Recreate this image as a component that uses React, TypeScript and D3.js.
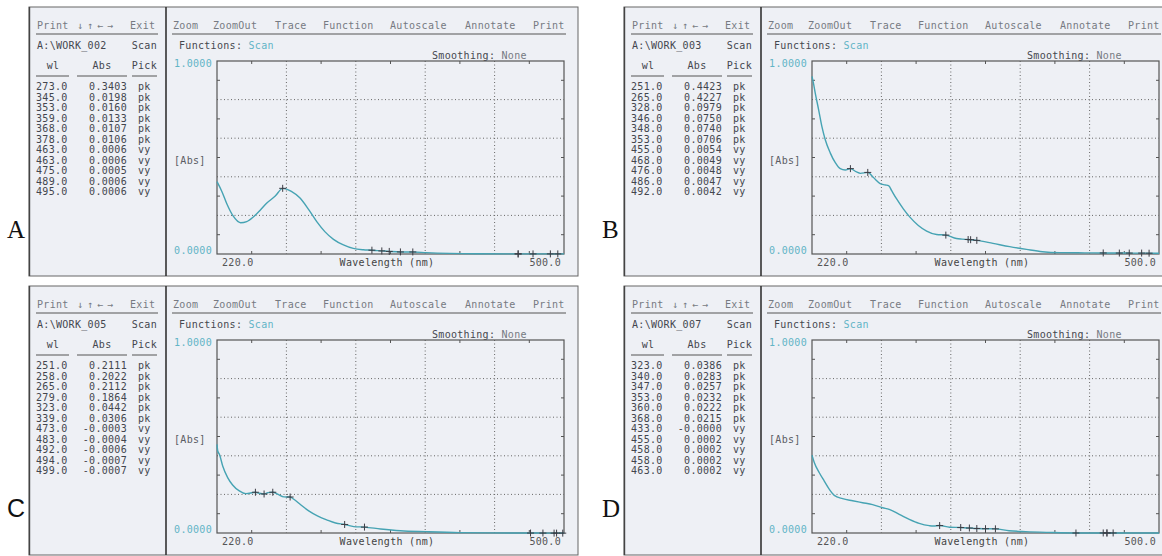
import React from "react";
import * as d3 from "d3";

// ---------- data ----------
const panelLetters = ["A", "B", "C", "D"];
const fileNames = ["A:\\WORK_002", "A:\\WORK_003", "A:\\WORK_005", "A:\\WORK_007"];

const wlDomain = [220, 500];
const absDomain = [0, 1];
const gridWl = [276, 332, 388, 444];
const minorWl = [248, 304, 360, 416, 472];
const gridAbs = [0.2, 0.4, 0.6, 0.8];
const minorAbs = [0.1, 0.3, 0.5, 0.7, 0.9];

const menuLeft = ["Print", "↓", "↑", "←", "→", "Exit"];
const menuRight = ["Zoom", "ZoomOut", "Trace", "Function", "Autoscale", "Annotate", "Print"];

// peak tables
const pickWlA = [273.0, 345.0, 353.0, 359.0, 368.0, 378.0, 463.0, 463.0, 475.0, 489.0, 495.0];
const pickAbsA = [0.3403, 0.0198, 0.016, 0.0133, 0.0107, 0.0106, 0.0006, 0.0006, 0.0005, 0.0006, 0.0006];
const pickWlB = [251.0, 265.0, 328.0, 346.0, 348.0, 353.0, 455.0, 468.0, 476.0, 486.0, 492.0];
const pickAbsB = [0.4423, 0.4227, 0.0979, 0.075, 0.074, 0.0706, 0.0054, 0.0049, 0.0048, 0.0047, 0.0042];
const pickWlC = [251.0, 258.0, 265.0, 279.0, 323.0, 339.0, 473.0, 483.0, 492.0, 494.0, 499.0];
const pickAbsC = [0.2111, 0.2022, 0.2112, 0.1864, 0.0442, 0.0306, -0.0003, -0.0004, -0.0006, -0.0007, -0.0007];
const pickWlD = [323.0, 340.0, 347.0, 353.0, 360.0, 368.0, 433.0, 455.0, 458.0, 458.0, 463.0];
const pickAbsD = [0.0386, 0.0283, 0.0257, 0.0232, 0.0222, 0.0215, -0.00004, 0.0002, 0.0002, 0.0002, 0.0002];
const pickTypes = ["pk", "pk", "pk", "pk", "pk", "pk", "vy", "vy", "vy", "vy", "vy"];

// scanned spectra
const specWlA = [220, 224, 228, 233, 239, 244, 249.5, 255, 260, 267, 273, 280, 287, 294, 300.5, 307, 314, 322, 330, 338, 345, 353, 359, 368, 378, 389, 408, 430, 463, 475, 489, 500];
const specAbsA = [0.375, 0.323, 0.259, 0.197, 0.162, 0.168, 0.193, 0.228, 0.263, 0.3, 0.34, 0.325, 0.29, 0.23, 0.168, 0.116, 0.076, 0.047, 0.029, 0.022, 0.0198, 0.016, 0.0133, 0.0107, 0.0106, 0.007, 0.003, 0.001, 0.0006, 0.0005, 0.0006, 0.0006];

const specWlB = [220, 221, 222.7, 225.4, 228, 230.7, 234.7, 238.8, 242.8, 246.8, 251, 256, 259, 265, 269.6, 275, 279, 282, 284.3, 288.3, 293.7, 299, 305.8, 312.5, 320.5, 328, 336.6, 341, 346, 348, 353, 366, 379.5, 393, 406, 420, 440, 455, 468, 476, 486, 492, 500];
const specAbsB = [0.92, 0.89, 0.831, 0.746, 0.66, 0.592, 0.524, 0.473, 0.442, 0.435, 0.4423, 0.425, 0.418, 0.4227, 0.396, 0.365, 0.358, 0.353, 0.328, 0.285, 0.234, 0.191, 0.148, 0.119, 0.101, 0.0979, 0.08, 0.077, 0.075, 0.074, 0.0706, 0.055, 0.038, 0.024, 0.012, 0.007, 0.006, 0.0054, 0.0049, 0.0048, 0.0047, 0.0042, 0.004];

const specWlC = [220, 220.6, 222, 224.6, 228.6, 232.6, 238, 243.3, 251, 254, 258, 261, 265, 269, 274, 279, 282, 287.5, 294, 301, 309, 315.7, 323, 330.4, 339, 352, 368, 389, 416, 440, 473, 483, 492, 494, 499, 500];
const specAbsC = [0.459, 0.425, 0.407, 0.347, 0.287, 0.249, 0.218, 0.204, 0.2111, 0.206, 0.2022, 0.209, 0.2112, 0.201, 0.187, 0.1864, 0.175, 0.146, 0.115, 0.089, 0.067, 0.052, 0.0442, 0.033, 0.0306, 0.021, 0.012, 0.007, 0.002, 0.0005, -0.0003, -0.0004, -0.0006, -0.0007, -0.0007, -0.0007];

const specWlD = [220, 221.9, 225.9, 229.9, 234, 238, 244.7, 252.8, 260.8, 268.9, 277, 282.3, 290.4, 298.5, 306.5, 314.6, 318, 323, 331, 340, 347, 353, 360, 368, 379, 392.5, 411, 433, 455, 458, 463, 480, 500];
const specAbsD = [0.403, 0.364, 0.312, 0.269, 0.226, 0.195, 0.178, 0.167, 0.157, 0.147, 0.131, 0.122, 0.097, 0.071, 0.05, 0.038, 0.036, 0.0386, 0.03, 0.0283, 0.0257, 0.0232, 0.0222, 0.0215, 0.012, 0.007, 0.003, 0.0, 0.0002, 0.0002, 0.0002, 0.0002, 0.0002];

// ---------- styling ----------
const MONO = "'DejaVu Sans Mono', 'Liberation Mono', monospace";
const BG = "#eef0f5";
const CYAN = "#62b4c6";
const CURVE = "#46a3b3";
const GREY_TXT = "#767a82";
const DARK_TXT = "#43464e";

const panels = [
  { letter: panelLetters[0], file: fileNames[0], pw: pickWlA, pa: pickAbsA, sw: specWlA, sa: specAbsA, dx: 0, dy: 0, serif: true },
  { letter: panelLetters[1], file: fileNames[1], pw: pickWlB, pa: pickAbsB, sw: specWlB, sa: specAbsB, dx: 595, dy: 0, serif: true },
  { letter: panelLetters[2], file: fileNames[2], pw: pickWlC, pa: pickAbsC, sw: specWlC, sa: specAbsC, dx: 0, dy: 279, serif: false },
  { letter: panelLetters[3], file: fileNames[3], pw: pickWlD, pa: pickAbsD, sw: specWlD, sa: specAbsD, dx: 595, dy: 279, serif: true },
];

const fmtAbs = (v: number) => v.toFixed(4);
const fmtWl = (v: number) => v.toFixed(1);

const menuLeftX = [37, 77, 87, 97, 107, 130];
const menuRightX = [173, 213, 275, 323, 390, 465, 533];

function Panel({ p }: { p: (typeof panels)[number] }) {
  const x = d3.scaleLinear().domain(wlDomain).range([217, 564]);
  const y = d3.scaleLinear().domain(absDomain).range([254, 61]);
  const pts: [number, number][] = p.sw.map((w, i) => [w, p.sa[i]]);
  const line = d3
    .line<[number, number]>()
    .x((d) => x(d[0]))
    .y((d) => y(d[1]))
    .curve(d3.curveMonotoneX);
  const txt = { fontFamily: MONO, fontSize: 10, letterSpacing: 0.3 } as const;
  return (
    <g transform={`translate(${p.dx},${p.dy})`}>
      <text
        x={7}
        y={238}
        fontFamily={p.serif ? "'Liberation Serif', 'DejaVu Serif', serif" : "'Liberation Sans', Arial, sans-serif"}
        fontSize={p.serif ? 25 : 25}
        fill="#111"
      >
        {p.letter}
      </text>
      <rect x={29} y={7} width={549} height={269} fill={BG} stroke="#666" strokeWidth={1} />
      <line x1={166} x2={166} y1={7} y2={276} stroke="#333" strokeWidth={1.6} />
      <line x1={29.5} x2={29.5} y1={7} y2={276} stroke="#444" strokeWidth={1.4} />

      {/* left list */}
      {menuLeft.map((m, i) => (
        <text key={m + i} x={menuLeftX[i]} y={29} {...txt} fill={GREY_TXT}>
          {m}
        </text>
      ))}
      <line x1={36} x2={158} y1={34} y2={34} stroke="#555" strokeWidth={1} />
      <text x={37} y={49} {...txt} fill={DARK_TXT}>
        {p.file}
      </text>
      <text x={157} y={49} {...txt} fill={DARK_TXT} textAnchor="end">
        Scan
      </text>
      <text x={53} y={69} {...txt} fill={DARK_TXT} textAnchor="middle">
        wl
      </text>
      <text x={102} y={69} {...txt} fill={DARK_TXT} textAnchor="middle">
        Abs
      </text>
      <text x={157} y={69} {...txt} fill={DARK_TXT} textAnchor="end">
        Pick
      </text>
      <line x1={36} x2={69} y1={76} y2={76} stroke="#555" />
      <line x1={77} x2={127} y1={76} y2={76} stroke="#555" />
      <line x1={132} x2={157} y1={76} y2={76} stroke="#555" />
      {p.pw.map((w, i) => (
        <g key={i}>
          <text x={36} y={90 + i * 10.5} {...txt} fill={DARK_TXT}>
            {fmtWl(w)}
          </text>
          <text x={127} y={90 + i * 10.5} {...txt} fill={DARK_TXT} textAnchor="end">
            {fmtAbs(p.pa[i])}
          </text>
          <text x={138} y={90 + i * 10.5} {...txt} fill={DARK_TXT}>
            {pickTypes[i]}
          </text>
        </g>
      ))}

      {/* right graph area */}
      {menuRight.map((m, i) => (
        <text key={m + i} x={menuRightX[i]} y={29} {...txt} fill={GREY_TXT}>
          {m}
        </text>
      ))}
      <line x1={172} x2={566} y1={34} y2={34} stroke="#555" strokeWidth={1} />
      <text x={179} y={49} {...txt} fill="#45474e">
        Functions: <tspan fill={CYAN}>Scan</tspan>
      </text>
      <text x={432} y={59} {...txt} fill="#45474e">
        Smoothing: <tspan fill={GREY_TXT}>None</tspan>
      </text>
      <text x={212} y={67} {...txt} fill={CYAN} textAnchor="end">
        {(1).toFixed(4)}
      </text>
      <text x={212} y={254} {...txt} fill={CYAN} textAnchor="end">
        {(0).toFixed(4)}
      </text>
      <text x={174} y={164} {...txt} fill="#5a5c63">
        [Abs]
      </text>
      <text x={222} y={266} {...txt} fill="#555">
        {fmtWl(wlDomain[0])}
      </text>
      <text x={561} y={266} {...txt} fill="#555" textAnchor="end">
        {fmtWl(wlDomain[1])}
      </text>
      <text x={387} y={266} {...txt} fill="#444" textAnchor="middle">
        Wavelength (nm)
      </text>

      {/* grid */}
      {gridWl.map((w) => (
        <line key={"gv" + w} x1={x(w)} x2={x(w)} y1={y(1)} y2={y(0)} stroke="#666" strokeWidth={1} strokeDasharray="1,2.5" />
      ))}
      {gridAbs.map((a) => (
        <line key={"gh" + a} x1={x(220)} x2={x(500)} y1={y(a)} y2={y(a)} stroke="#666" strokeWidth={1} strokeDasharray="1,2.5" />
      ))}
      {minorWl.map((w) => (
        <g key={"mt" + w}>
          <line x1={x(w)} x2={x(w)} y1={y(1)} y2={y(1) + 3} stroke="#555" />
          <line x1={x(w)} x2={x(w)} y1={y(0)} y2={y(0) - 3} stroke="#555" />
        </g>
      ))}
      {minorAbs.map((a) => (
        <g key={"ma" + a}>
          <line x1={x(220)} x2={x(220) + 3} y1={y(a)} y2={y(a)} stroke="#555" />
          <line x1={x(500)} x2={x(500) - 3} y1={y(a)} y2={y(a)} stroke="#555" />
        </g>
      ))}
      <rect x={x(220)} y={y(1)} width={x(500) - x(220)} height={y(0) - y(1)} fill="none" stroke="#555" strokeWidth={1.2} />

      {/* spectrum */}
      <path d={line(pts) || ""} fill="none" stroke={CURVE} strokeWidth={1.4} />
      {p.pw.map((w, i) => (
        <g key={"pk" + i} stroke="#3c3c44" strokeWidth={1}>
          <line x1={x(w) - 3.5} x2={x(w) + 3.5} y1={y(p.pa[i])} y2={y(p.pa[i])} />
          <line x1={x(w)} x2={x(w)} y1={y(p.pa[i]) - 3.5} y2={y(p.pa[i]) + 3.5} />
        </g>
      ))}
    </g>
  );
}

export default function App() {
  return (
    <svg
      width={1162}
      height={556}
      style={{ position: "absolute", left: 0, top: 0, background: "#fff" }}
    >
      <rect width={1162} height={556} fill="#fff" />
      {panels.map((p) => (
        <Panel key={p.letter} p={p} />
      ))}
    </svg>
  );
}
